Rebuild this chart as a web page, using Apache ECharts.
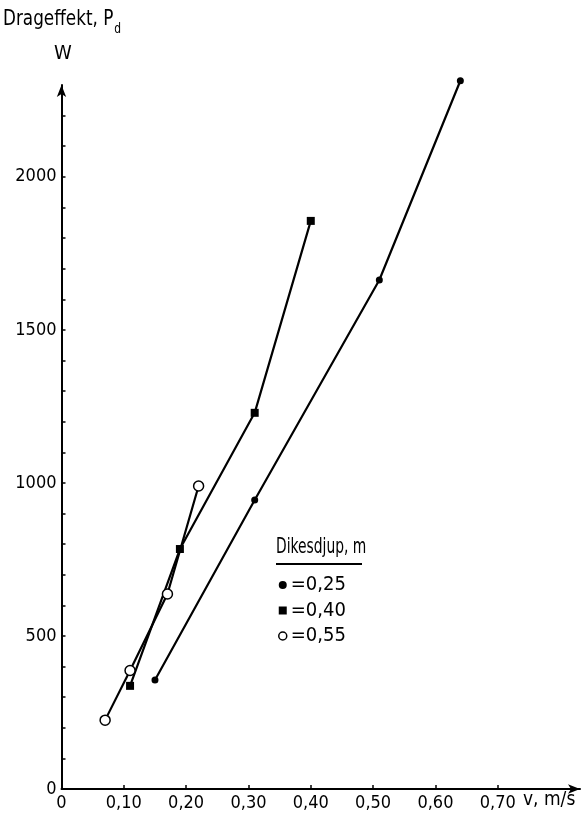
<!DOCTYPE html>
<html>
<head>
<meta charset="utf-8">
<script src="https://cdn.jsdelivr.net/npm/echarts@6/dist/echarts.min.js"></script>
<style>html,body{margin:0;padding:0;background:#fff}#c{width:585px;height:818px}</style>
</head>
<body>
<div id="c"></div>
<script>
var xTicks = [0, 0.1, 0.2, 0.3, 0.4, 0.5, 0.6, 0.7];
var yLabels = [0, 500, 1000, 1500, 2000];
var yTicks = [0,100,200,300,400,500,600,700,800,900,1000,1100,1200,1300,1400,1500,1600,1700,1800,1900,2000,2100,2200];
var seriesNames = ['=0,25', '=0,40', '=0,55'];
var depth025 = [[0.15, 356], [0.31, 944], [0.51, 1663], [0.64, 2314]];
var depth040 = [[0.11, 337], [0.19, 784], [0.31, 1229], [0.40, 1856]];
var depth055 = [[0.07, 225], [0.11, 387], [0.17, 637], [0.22, 990]];

var FONT = '"DejaVu Sans Condensed","DejaVu Sans",sans-serif';
var chart = echarts.init(document.getElementById('c'));
function fmtX(v){ return v === 0 ? '0' : v.toFixed(2).replace('.', ','); }
function fmtY(v){ return String(Math.round(v)); }
chart.setOption({
  animation: false,
  backgroundColor: '#fff',
  textStyle: { fontFamily: FONT, color: '#000' },
  grid: { left: 61.5, right: 5, top: 85, bottom: 29, containLabel: false },
  xAxis: {
    type: 'value', min: 0, max: 0.832,
    axisLine: { show: true, onZero: false, symbol: ['none', 'arrow'], symbolSize: [7, 12], lineStyle: { color: '#000', width: 2 } },
    axisTick: { show: true, inside: true, length: 4, customValues: xTicks, lineStyle: { color: '#000', width: 1.5 } },
    axisLabel: { customValues: xTicks, formatter: fmtX, fontFamily: FONT, fontSize: 18, color: '#000', margin: 5 },
    splitLine: { show: false }
  },
  yAxis: {
    type: 'value', min: 0, max: 2300,
    axisLine: { show: true, onZero: false, symbol: ['none', 'arrow'], symbolSize: [7, 12], lineStyle: { color: '#000', width: 2 } },
    axisTick: { show: true, inside: true, length: 4, customValues: yTicks, lineStyle: { color: '#000', width: 1.5 } },
    axisLabel: { customValues: yLabels, formatter: fmtY, fontFamily: FONT, fontSize: 18, color: '#000', margin: 5 },
    splitLine: { show: false }
  },
  legend: {
    orient: 'vertical', left: 273, top: 570, itemGap: 5.5,
    itemWidth: 8, itemHeight: 8,
    textStyle: { fontFamily: FONT, fontSize: 20, color: '#000', padding: [0, 0, 0, -1] },
    data: [
      { name: seriesNames[0], icon: 'circle', itemStyle: { color: '#000' } },
      { name: seriesNames[1], icon: 'rect', itemStyle: { color: '#000' } },
      { name: seriesNames[2], icon: 'circle', itemStyle: { color: '#fff', borderColor: '#000', borderWidth: 1.5 } }
    ]
  },
  graphic: [
    { type: 'text', left: 3, top: 8, scaleX: 0.85, style: { text: '{a|Drageffekt, P}{s|d}', rich: {
        a: { fontFamily: FONT, fontSize: 22, fill: '#000' },
        s: { fontFamily: FONT, fontSize: 14, fill: '#000', padding: [20, 0, 0, 1] } } } },
    { type: 'text', left: 54, top: 44, style: { text: 'W', fontFamily: FONT, fontSize: 20, fill: '#000' } },
    { type: 'text', left: 523, top: 791, style: { text: 'v, m/s', fontFamily: FONT, fontSize: 19, fill: '#000' } },
    { type: 'text', left: 276, top: 536, scaleX: 0.7, style: { text: 'Dikesdjup, m', fontFamily: FONT, fontSize: 22, fill: '#000' } },
    { type: 'line', shape: { x1: 276, y1: 564, x2: 362, y2: 564 }, style: { stroke: '#000', lineWidth: 2 } }
  ],
  series: [
    { name: seriesNames[0], type: 'line', data: depth025, symbol: 'circle', symbolSize: 7, clip: false,
      lineStyle: { color: '#000', width: 2.2 }, itemStyle: { color: '#000' } },
    { name: seriesNames[1], type: 'line', data: depth040, symbol: 'rect', symbolSize: 8, clip: false,
      lineStyle: { color: '#000', width: 2.2 }, itemStyle: { color: '#000' } },
    { name: seriesNames[2], type: 'line', data: depth055, symbol: 'circle', symbolSize: 10, clip: false,
      lineStyle: { color: '#000', width: 2.2 }, itemStyle: { color: '#fff', borderColor: '#000', borderWidth: 1.5 } }
  ]
});
</script>
</body>
</html>
